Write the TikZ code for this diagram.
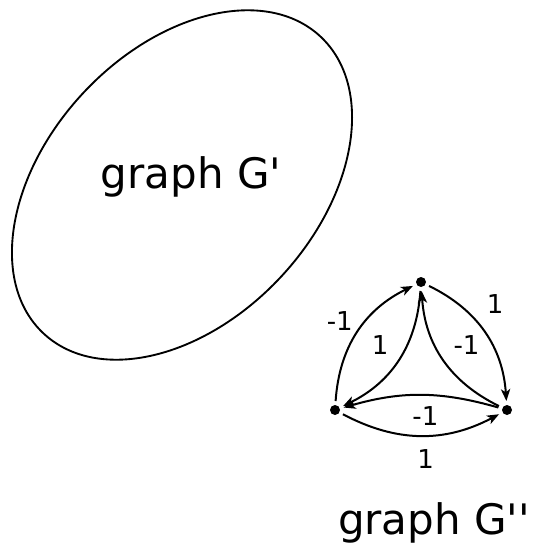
\documentclass[tikz,border=0pt]{standalone}
\usepackage{fontspec}
\setmainfont{DejaVu Sans}
\usetikzlibrary{arrows.meta, positioning}

\begin{document}
\begin{tikzpicture}[
    x=0.75pt, y=-0.75pt,
    dot/.style={circle, fill=black, inner sep=0pt, minimum size=7.5pt, outer sep=3pt},
    arrow/.style={-{Stealth[length=9pt, width=7pt, inset=2.5pt]}, line width=1.5pt},
    lbl/.style={font=\fontsize{19.5}{19.5}\selectfont, inner sep=2pt},
    big/.style={font=\fontsize{31.5}{31.5}\selectfont}
  ]
    \useasboundingbox (0,0) rectangle (533,552);

    % Graph G'
    \draw[line width=1.4pt, rotate around={47:(182,185)}] (182,185) ellipse [x radius=203, y radius=135];
    \node[big] (gp) at (191,177) {graph G\textquotesingle};

    % Vertices
    \node[dot] (t) at (421,282) {};
    \node[dot] (l) at (335,410) {};
    \node[dot] (r) at (507,410) {};
    % Name
    \node[big] (gpp) at (434,523) {graph G\textquotesingle\textquotesingle};

    % Arrows
    \draw[arrow] (l) to[bend left=30] node[pos=0.6, left=7pt, lbl] {-1} (t);
    \draw[arrow] (t) to[bend left=30] node[pos=0.38, left=11pt, lbl] {1} (l);
    \draw[arrow] (t) to[bend left=30] node[pos=0.36, above right=0pt and 8pt, lbl] {1} (r);
    \draw[arrow] (r) to[bend left=30] node[pos=0.62, right=11pt, lbl] {-1} (t);
    \draw[arrow] (r) to[bend right=16] node[pos=0.47, below=6pt, lbl] {-1} (l);
    \draw[arrow] (l) to[bend right=28] node[pos=0.53, below=8pt, lbl] {1} (r);
\end{tikzpicture}
\end{document}
